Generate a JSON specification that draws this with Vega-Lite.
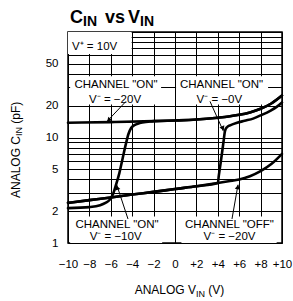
{
  "$schema": "https://vega.github.io/schema/vega-lite/v6.json",
  "width": 214,
  "height": 211,
  "autosize": {"type": "none"},
  "padding": {"left": 68, "top": 32, "right": 11, "bottom": 58},
  "background": "white",
  "config": {
    "font": "Liberation Sans",
    "view": {"stroke": "black", "strokeWidth": 1.5},
    "text": {"font": "Liberation Sans", "color": "black"}
  },
  "encoding": {
    "x": {
      "field": "vin", "type": "quantitative",
      "scale": {"domain": [-10, 10], "nice": false, "zero": false},
      "axis": {
        "values": [-10, -8, -6, -4, -2, 0, 2, 4, 6, 8, 10],
        "grid": true, "gridColor": "black", "gridWidth": 1, "gridOpacity": 1,
        "ticks": false, "tickSize": 0, "domain": false,
        "labelExpr": "datum.value > 0 ? '+' + datum.label : datum.label",
        "labelPadding": 15, "labelFontSize": 11.5, "labelColor": "black",
        "labelFont": "Liberation Sans",
        "labelFlush": false, "labelOverlap": false, "title": null
      }
    },
    "y": {
      "field": "cin", "type": "quantitative",
      "scale": {"type": "log", "domain": [1, 100], "nice": false},
      "axis": {
        "values": [1, 2, 3, 4, 5, 6, 7, 8, 9, 10, 20, 30, 40, 50, 60, 70, 80, 90, 100],
        "format": "d",
        "labelExpr": "indexof([1, 2, 5, 10, 20, 50], datum.value) >= 0 ? datum.label : ''",
        "grid": true, "gridColor": "black", "gridWidth": 1, "gridOpacity": 1,
        "ticks": false, "tickSize": 0, "domain": false,
        "labelPadding": 10, "labelFontSize": 11.5, "labelColor": "black",
        "labelFont": "Liberation Sans",
        "labelFlush": false, "labelOverlap": false, "title": null
      }
    }
  },
  "layer": [
    {
      "data": {"values": [
        {"vin": -10, "vin2": -4.05, "cin": 62, "cin2": 100},
        {"vin": -9.8, "vin2": -1.3, "cin": 20.5, "cin2": 38},
        {"vin": 0.1, "vin2": 8.7, "cin": 20.5, "cin2": 38},
        {"vin": -9.8, "vin2": -1.2, "cin": 1, "cin2": 1.78},
        {"vin": 0.6, "vin2": 9.5, "cin": 1, "cin2": 1.78}
      ]},
      "mark": {"type": "rect", "color": "white", "strokeWidth": 0},
      "encoding": {"x2": {"field": "vin2"}, "y2": {"field": "cin2"}}
    },
    {
      "data": {"values": [
        {"series": "ON, V- = -20V", "vin": -10, "cin": 13.8},
        {"series": "ON, V- = -20V", "vin": -6, "cin": 14.0},
        {"series": "ON, V- = -20V", "vin": -2, "cin": 14.3},
        {"series": "ON, V- = -20V", "vin": 0, "cin": 14.5},
        {"series": "ON, V- = -20V", "vin": 2, "cin": 14.8},
        {"series": "ON, V- = -20V", "vin": 4, "cin": 15.4},
        {"series": "ON, V- = -20V", "vin": 5, "cin": 15.8},
        {"series": "ON, V- = -20V", "vin": 6, "cin": 16.4},
        {"series": "ON, V- = -20V", "vin": 7, "cin": 17.3},
        {"series": "ON, V- = -20V", "vin": 8, "cin": 18.7},
        {"series": "ON, V- = -20V", "vin": 9, "cin": 21.0},
        {"series": "ON, V- = -20V", "vin": 10, "cin": 25.0},

        {"series": "ON, V- = -10V", "vin": -10, "cin": 2.14},
        {"series": "ON, V- = -10V", "vin": -8, "cin": 2.19},
        {"series": "ON, V- = -10V", "vin": -7, "cin": 2.28},
        {"series": "ON, V- = -10V", "vin": -6.5, "cin": 2.40},
        {"series": "ON, V- = -10V", "vin": -6.1, "cin": 2.57},
        {"series": "ON, V- = -10V", "vin": -5.8, "cin": 2.9},
        {"series": "ON, V- = -10V", "vin": -5.5, "cin": 3.6},
        {"series": "ON, V- = -10V", "vin": -5.2, "cin": 4.6},
        {"series": "ON, V- = -10V", "vin": -4.9, "cin": 6.3},
        {"series": "ON, V- = -10V", "vin": -4.6, "cin": 8.6},
        {"series": "ON, V- = -10V", "vin": -4.35, "cin": 10.8},
        {"series": "ON, V- = -10V", "vin": -4.1, "cin": 12.3},
        {"series": "ON, V- = -10V", "vin": -3.8, "cin": 13.1},
        {"series": "ON, V- = -10V", "vin": -3.3, "cin": 13.7},
        {"series": "ON, V- = -10V", "vin": -2.5, "cin": 14.1},
        {"series": "ON, V- = -10V", "vin": -2, "cin": 14.3},
        {"series": "ON, V- = -10V", "vin": 0, "cin": 14.5},
        {"series": "ON, V- = -10V", "vin": 2, "cin": 14.8},
        {"series": "ON, V- = -10V", "vin": 4, "cin": 15.4},
        {"series": "ON, V- = -10V", "vin": 5, "cin": 15.8},
        {"series": "ON, V- = -10V", "vin": 6, "cin": 16.4},
        {"series": "ON, V- = -10V", "vin": 7, "cin": 17.3},
        {"series": "ON, V- = -10V", "vin": 8, "cin": 18.7},
        {"series": "ON, V- = -10V", "vin": 9, "cin": 21.0},
        {"series": "ON, V- = -10V", "vin": 10, "cin": 25.0},

        {"series": "OFF, V- = -20V", "vin": -10, "cin": 2.40},
        {"series": "OFF, V- = -20V", "vin": -8, "cin": 2.55},
        {"series": "OFF, V- = -20V", "vin": -6, "cin": 2.70},
        {"series": "OFF, V- = -20V", "vin": -4, "cin": 2.88},
        {"series": "OFF, V- = -20V", "vin": -2, "cin": 3.05},
        {"series": "OFF, V- = -20V", "vin": 0, "cin": 3.25},
        {"series": "OFF, V- = -20V", "vin": 2, "cin": 3.45},
        {"series": "OFF, V- = -20V", "vin": 4, "cin": 3.7},
        {"series": "OFF, V- = -20V", "vin": 5, "cin": 3.85},
        {"series": "OFF, V- = -20V", "vin": 6, "cin": 4.0},
        {"series": "OFF, V- = -20V", "vin": 7, "cin": 4.3},
        {"series": "OFF, V- = -20V", "vin": 8, "cin": 4.8},
        {"series": "OFF, V- = -20V", "vin": 9, "cin": 5.6},
        {"series": "OFF, V- = -20V", "vin": 10, "cin": 7.0},

        {"series": "ON, V- = -0V", "vin": -10, "cin": 2.40},
        {"series": "ON, V- = -0V", "vin": -8, "cin": 2.55},
        {"series": "ON, V- = -0V", "vin": -6, "cin": 2.70},
        {"series": "ON, V- = -0V", "vin": -4, "cin": 2.88},
        {"series": "ON, V- = -0V", "vin": -2, "cin": 3.05},
        {"series": "ON, V- = -0V", "vin": 0, "cin": 3.25},
        {"series": "ON, V- = -0V", "vin": 2, "cin": 3.45},
        {"series": "ON, V- = -0V", "vin": 4, "cin": 3.7},
        {"series": "ON, V- = -0V", "vin": 4.1, "cin": 4.4},
        {"series": "ON, V- = -0V", "vin": 4.25, "cin": 5.6},
        {"series": "ON, V- = -0V", "vin": 4.4, "cin": 7.2},
        {"series": "ON, V- = -0V", "vin": 4.55, "cin": 9.4},
        {"series": "ON, V- = -0V", "vin": 4.67, "cin": 11.5},
        {"series": "ON, V- = -0V", "vin": 4.85, "cin": 12.5},
        {"series": "ON, V- = -0V", "vin": 5.2, "cin": 13.1},
        {"series": "ON, V- = -0V", "vin": 5.8, "cin": 13.8},
        {"series": "ON, V- = -0V", "vin": 6.5, "cin": 14.4},
        {"series": "ON, V- = -0V", "vin": 7.3, "cin": 15.1},
        {"series": "ON, V- = -0V", "vin": 8, "cin": 16.2},
        {"series": "ON, V- = -0V", "vin": 8.9, "cin": 17.9},
        {"series": "ON, V- = -0V", "vin": 9.5, "cin": 19.5},
        {"series": "ON, V- = -0V", "vin": 10, "cin": 21.5}
      ]},
      "mark": {"type": "line", "color": "black", "strokeWidth": 2.6, "interpolate": "monotone", "strokeCap": "round", "strokeJoin": "round"},
      "encoding": {"detail": {"field": "series", "type": "nominal"}}
    },
    {
      "data": {"values": [
        {"vin": -4.58, "cin": 22.0, "vin2": -6.355, "cin2": 14.2},
        {"vin": 3.27, "cin": 22.0, "vin2": 4.514, "cin2": 11.5},
        {"vin": -4.393, "cin": 1.69, "vin2": -5.449, "cin2": 3.57},
        {"vin": 5.327, "cin": 1.69, "vin2": 5.888, "cin2": 3.57}
      ]},
      "mark": {"type": "rule", "color": "black", "strokeWidth": 1},
      "encoding": {"x2": {"field": "vin2"}, "y2": {"field": "cin2"}}
    },
    {
      "data": {"values": [{"vin": -6.2, "cin": 14.6}]},
      "mark": {"type": "point", "shape": "triangle-up", "filled": true, "color": "black", "opacity": 1, "size": 28, "angle": 223.5}
    },
    {
      "data": {"values": [{"vin": 4.47, "cin": 12.2}]},
      "mark": {"type": "point", "shape": "triangle-up", "filled": true, "color": "black", "opacity": 1, "size": 28, "angle": 155.9}
    },
    {
      "data": {"values": [{"vin": -5.41, "cin": 3.35}]},
      "mark": {"type": "point", "shape": "triangle-up", "filled": true, "color": "black", "opacity": 1, "size": 28, "angle": 341.6}
    },
    {
      "data": {"values": [{"vin": 5.87, "cin": 3.4}]},
      "mark": {"type": "point", "shape": "triangle-up", "filled": true, "color": "black", "opacity": 1, "size": 28, "angle": 10}
    },
    {
      "data": {"values": [
        {"t": "CHANNEL \"ON\"", "vin": -5.51, "cin": 29.5},
        {"t": "V⁻ = −20V", "vin": -5.6, "cin": 21.2},
        {"t": "CHANNEL \"ON\"", "vin": 4.35, "cin": 29.5},
        {"t": "V⁻ = −0V", "vin": 4.15, "cin": 21.2},
        {"t": "CHANNEL \"ON\"", "vin": -5.42, "cin": 1.387},
        {"t": "V⁻ = −10V", "vin": -5.55, "cin": 1.068},
        {"t": "CHANNEL \"OFF\"", "vin": 5.09, "cin": 1.387},
        {"t": "V⁻ = −20V", "vin": 5.1, "cin": 1.068}
      ]},
      "mark": {"type": "text", "fontSize": 11.5, "align": "center", "baseline": "alphabetic", "color": "black"},
      "encoding": {"text": {"field": "t"}}
    },
    {
      "data": {"values": [{"t": "V⁺ = 10V", "vin": -9.63, "cin": 67.5}]},
      "mark": {"type": "text", "fontSize": 11.5, "align": "left", "baseline": "alphabetic", "color": "black"},
      "encoding": {"text": {"field": "t"}}
    },
    {
      "data": {"values": [
        {"t": "C", "vin": -8.598, "cin": 121.7},
        {"t": "V", "vin": -3.271, "cin": 121.7}
      ]},
      "mark": {"type": "text", "fontSize": 18, "fontWeight": "bold", "align": "right", "baseline": "alphabetic", "color": "black"},
      "encoding": {"text": {"field": "t"}}
    },
    {
      "data": {"values": [{"t": "vs", "vin": -6.542, "cin": 121.7}]},
      "mark": {"type": "text", "fontSize": 18, "fontWeight": "bold", "align": "left", "baseline": "alphabetic", "color": "black"},
      "encoding": {"text": {"field": "t"}}
    },
    {
      "data": {"values": [
        {"t": "IN", "vin": -8.598, "cin": 114.0},
        {"t": "IN", "vin": -3.271, "cin": 114.0}
      ]},
      "mark": {"type": "text", "fontSize": 14, "fontWeight": "bold", "align": "left", "baseline": "alphabetic", "color": "black"},
      "encoding": {"text": {"field": "t"}}
    },
    {
      "data": {"values": [{"t": "ANALOG V", "vin": 1.963, "cin": 0.3286}]},
      "mark": {"type": "text", "fontSize": 12, "align": "right", "baseline": "alphabetic", "color": "black"},
      "encoding": {"text": {"field": "t"}}
    },
    {
      "data": {"values": [{"t": "(V)", "vin": 3.11, "cin": 0.3286}]},
      "mark": {"type": "text", "fontSize": 12, "align": "left", "baseline": "alphabetic", "color": "black"},
      "encoding": {"text": {"field": "t"}}
    },
    {
      "data": {"values": [{"t": "IN", "vin": 1.963, "cin": 0.3078}]},
      "mark": {"type": "text", "fontSize": 9, "align": "left", "baseline": "alphabetic", "color": "black"},
      "encoding": {"text": {"field": "t"}}
    },
    {
      "data": {"values": [{"t": "ANALOG C", "vin": -14.486, "cin": 10.34}]},
      "mark": {"type": "text", "fontSize": 12, "angle": 270, "align": "right", "baseline": "alphabetic", "color": "black"},
      "encoding": {"text": {"field": "t"}}
    },
    {
      "data": {"values": [{"t": "(pF)", "vin": -14.486, "cin": 13.5}]},
      "mark": {"type": "text", "fontSize": 12, "angle": 270, "align": "left", "baseline": "alphabetic", "color": "black"},
      "encoding": {"text": {"field": "t"}}
    },
    {
      "data": {"values": [{"t": "IN", "vin": -14.299, "cin": 10.34}]},
      "mark": {"type": "text", "fontSize": 9, "angle": 270, "align": "left", "baseline": "alphabetic", "color": "black"},
      "encoding": {"text": {"field": "t"}}
    }
  ]
}
